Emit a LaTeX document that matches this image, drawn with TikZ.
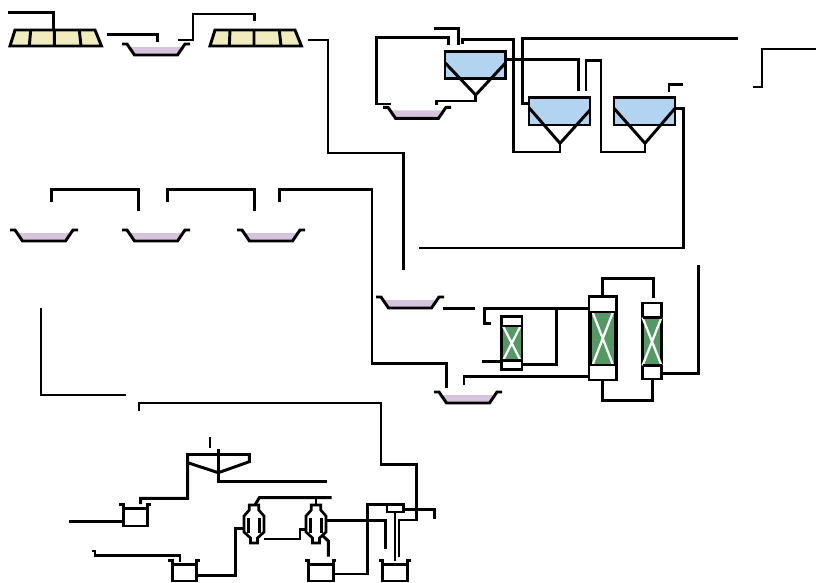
\documentclass[tikz,border=0pt]{standalone}
\definecolor{sandy}{RGB}{240,236,190}
\definecolor{lilac}{RGB}{214,196,222}
\definecolor{skyb}{RGB}{178,212,240}
\definecolor{leaf}{RGB}{84,152,100}
\tikzset{
  line/.style={line width=2.2pt,line join=miter,line cap=butt},
  pics/trough/.style={code={
    \fill[lilac] (-25.5,-8)--(25.5,-8)--(21.5,0)--(-21.5,0)--cycle;
    \draw[line] (-34,-11)--(-29,-11)--(-21.5,0)--(21.5,0)--(29,-11)--(34,-11);
  }},
  pics/cyclone/.style={code={
    \draw[line,line width=2pt,fill=white] (-4.7,-19)--(4.7,-19)--(4.7,-14)--(10,-8)--(10,8)--(3.5,14)--(3.5,19)--(-3.5,19)--(-3.5,14)--(-10,8)--(-10,-8)--(-4.7,-14)--cycle;
    \draw[line,line width=2pt] (-5.5,-6)--(-5.5,9) (5.5,-6)--(5.5,9);
  }},
  pics/column/.style n args={7}{code={
    \fill[leaf] (#1,#4) rectangle (#2,#5);
    \draw[line] (#1,#3) rectangle (#2,#6);
    \draw[white,line width=1.7pt] (#1+#7,#4)--(#2-#7,#5) (#2-#7,#4)--(#1+#7,#5);
    \draw[line] (#1,#4)--(#2,#4) (#1,#5)--(#2,#5);
  }}
}
\begin{document}
\begin{tikzpicture}[x=0.75pt,y=-0.75pt]
\useasboundingbox (0,0) rectangle (816,582);
% belt filters
\draw[line,fill=sandy] (15,30)--(95,30)--(101.5,46)--(10,46)--cycle;
\draw[line] (30.7,30)--(29.3,46) (54.3,30)--(54.3,46) (79.3,30)--(81,46);
\draw[line,fill=sandy] (215,30)--(295,30)--(301.5,46)--(210,46)--cycle;
\draw[line] (230,30)--(229.3,46) (254,30)--(254,46) (279.3,30)--(281,46);
% troughs
\pic at (156,55) {trough};
\pic at (417,118.3) {trough};
\pic at (44,241) {trough};
\pic at (156,241) {trough};
\pic at (271,241) {trough};
\pic at (410,308) {trough};
\pic at (468,403) {trough};
% top lines
\draw[line] (8,12.5)--(53.5,12.5)--(53.5,30);
\draw[line] (107,34.3)--(157.5,34.3)--(157.5,41.5);
\draw[line] (178,40)--(193,40)--(193,14)--(254.3,14)--(254.3,20.5);
\draw[line] (308,40)--(328,40)--(328,153)--(403.5,153)--(403.5,270);
% settlers
\draw[line,fill=skyb] (445,51.7) rectangle (505.7,78.5);
\draw[line,fill=skyb] (529,97.7) rectangle (590,125);
\draw[line,fill=skyb] (614,97.7) rectangle (675,125);
\draw[line] (445,62.7)--(475.7,95)--(505.7,62.7);
\draw[line] (529,107.7)--(560,143.3)--(590,110);
\draw[line] (614,108.3)--(645,143.3)--(675,108.3);
% settler pipes
\draw[line] (475.7,95)--(475.7,101)--(436.7,101)--(436.7,104.5);
\draw[line] (434,28.3)--(458.3,28.3)--(458.3,44.5);
\draw[line] (448.3,45)--(448.3,37.7)--(376.7,37.7)--(376.7,104)--(390.7,104);
\draw[line] (462.7,43.5)--(462.7,39.3)--(513.3,39.3)--(513.3,152)--(560,152)--(560,143.3);
\draw[line] (505.7,59.5)--(578.3,59.5)--(578.3,91);
\draw[line] (586,91)--(586,60.7)--(601,60.7)--(601,152)--(645,152)--(645,143.3);
\draw[line] (529,103.3)--(522.7,103.3)--(522.7,38.5)--(738,38.5);
\draw[line] (669,92.3)--(669,84.3)--(683.3,84.3);
\draw[line] (675,108.3)--(683.5,108.3)--(683.5,248)--(419,248);
\draw[line] (753,87)--(762,87)--(762,49)--(816,49);
% row of troughs
\draw[line] (51.7,202)--(51.7,189.3)--(138.3,189.3)--(138.3,211);
\draw[line] (167.3,202)--(167.3,189.3)--(254.3,189.3)--(254.3,211);
\draw[line] (279.3,202)--(279.3,189.3)--(372,189.3)--(372,363.7)--(446.7,363.7)--(446.7,388);
% adsorption columns
\pic {column={501.5}{522}{316.5}{326}{360.5}{369.5}{1.5}};
\pic {column={589}{616.5}{296.5}{312}{365}{380}{3.5}};
\draw[line,line width=2.8pt] (590,312)--(590,365) (615.5,312)--(615.5,365);
\pic {column={642.5}{661.5}{303}{317.5}{365.5}{379}{0}};
\draw[line] (442.7,308.3)--(475,308.3);
\draw[line] (491,323.3)--(484.3,323.3)--(484.3,308.3)--(588.5,308.3);
\draw[line] (556.7,308.3)--(556.7,364.3)--(522,364.3);
\draw[line] (481.7,361.7)--(502,361.7);
\draw[line] (464,384.5)--(464,376.7)--(588.5,376.7);
\draw[line] (602.7,296.5)--(602.7,278.5)--(653.3,278.5)--(653.3,298);
\draw[line] (602.3,380)--(602.3,400.7)--(652.7,400.7)--(652.7,379);
\draw[line] (661.5,373.3)--(698.3,373.3)--(698.3,265);
% left lines
\draw[line] (41,308)--(41,395)--(126,395);
\draw[line] (139,411)--(139,403)--(381,403)--(381,464.5)--(416.8,464.5)--(416.8,520)--(399,520)--(399,557.3);
% bottom tank
\draw[line] (210,436.7)--(210,448.3);
\draw[line] (218.3,449.3)--(218.3,481.7)--(327,481.7);
\draw[line] (140.7,504)--(140.7,498.3)--(187.7,498.3)--(187.7,454.5)--(249.3,454.5)--(249.3,461.7)--(218.3,472.7)--(187.7,462.7);
% vessels
\draw[line] (119.3,504.5)--(123.3,504.5)--(123.3,526)--(147.3,526)--(147.3,504.5)--(151,504.5);
\draw[line] (123.3,508.5)--(147.3,508.5);
\draw[line] (69.3,521.7)--(123.3,521.7);
\draw[line] (168.3,560.5)--(172.3,560.5)--(172.3,581)--(196.7,581)--(196.7,560.5)--(199.5,560.5);
\draw[line] (172.3,564.5)--(196.7,564.5);
\draw[line] (305,560.5)--(308.3,560.5)--(308.3,581)--(333.3,581)--(333.3,560.5)--(336,560.5);
\draw[line] (308.3,564.5)--(333.3,564.5);
\draw[line] (379,560.5)--(382.3,560.5)--(382.3,581)--(407.7,581)--(407.7,560.5)--(410.5,560.5);
\draw[line] (382.3,564.5)--(407.7,564.5);
\draw[line] (92,551)--(95,551)--(95,555.3)--(180,555.3)--(180,561.5);
\draw[line] (196.7,575.3)--(235.7,575.3)--(235.7,528.3)--(244.3,528.3);
% cyclones
\pic at (254,524) {cyclone};
\pic at (316,524) {cyclone};
\draw[line] (255,505)--(259.3,497.7)--(331.7,497.7);
\draw[line] (316,497.7)--(316,505);
\draw[line] (264,539)--(300,539)--(300,529.3)--(306,529.3);
\draw[line] (326,520.7)--(385.7,520.7)--(385.7,549.3);
\draw[line] (322,535)--(328.3,541)--(328.3,556.7);
\draw[line] (333.3,574)--(367.7,574)--(367.7,504.5)--(387,504.5);
\draw[line] (387,504.5) rectangle (403.3,512);
\draw[line] (403.3,509.3)--(434.3,509.3)--(434.3,518.5);
\draw[line] (395,512)--(395,560.7);
\end{tikzpicture}
\end{document}
